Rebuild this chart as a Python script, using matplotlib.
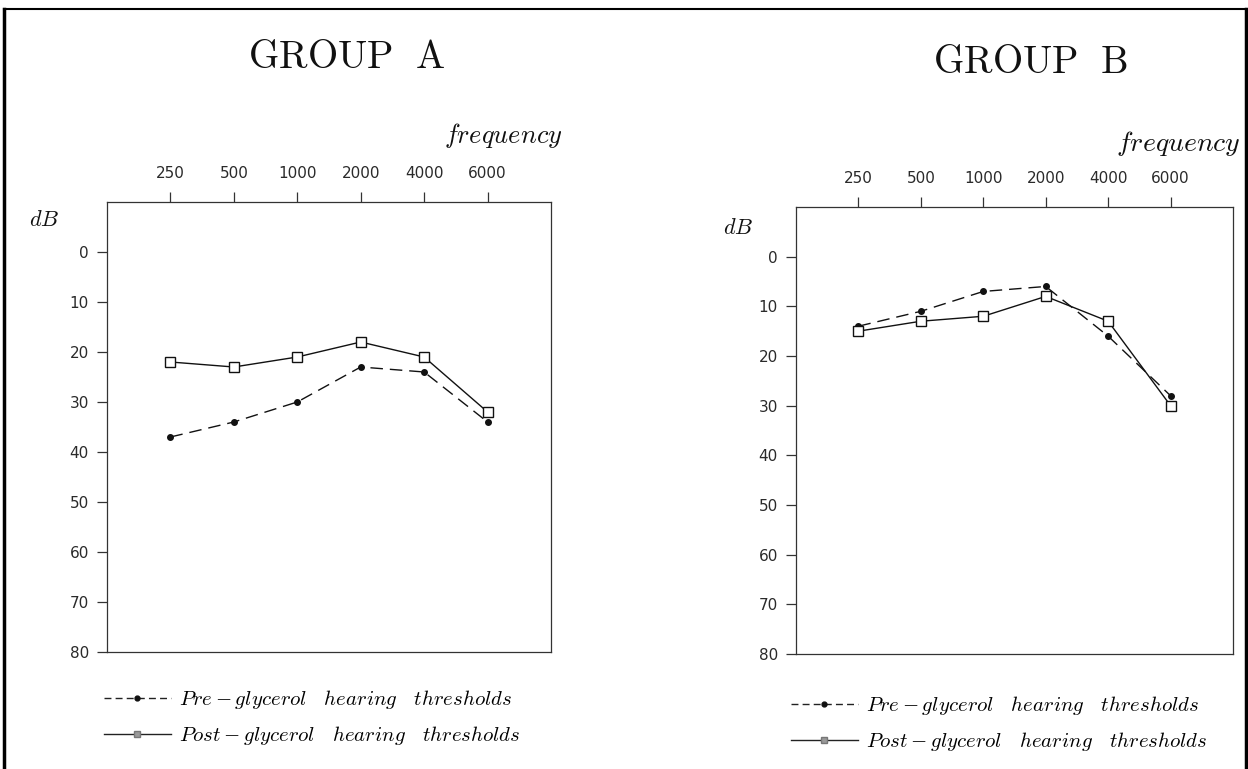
import matplotlib
matplotlib.use("Agg")
import matplotlib.pyplot as plt
from matplotlib.lines import Line2D

plt.rcParams['mathtext.fontset'] = 'cm'
plt.rcParams['font.family'] = ['DejaVu Sans']

freq_labels = ["250", "500", "1000", "2000", "4000", "6000"]
groupA_pre = [37, 34, 30, 23, 24, 34]
groupA_post = [22, 23, 21, 18, 21, 32]
groupB_pre = [14, 11, 7, 6, 16, 28]
groupB_post = [15, 13, 12, 8, 13, 30]
db_ticks = [0, 10, 20, 30, 40, 50, 60, 70, 80]
titles = ["GROUP\\ \\ A", "GROUP\\ \\ B"]
legend_labels = [r"$Pre-glycerol\quad hearing\quad thresholds$",
                 r"$Post-glycerol\quad hearing\quad thresholds$"]

W, H = 1248, 769
fig = plt.figure(figsize=(W / 100, H / 100), dpi=100)

def fx(px):
    return px / W

def fy(py):
    return 1 - py / H

# figure border (left, top, right)
fig.add_artist(Line2D([fx(4), fx(4)], [fy(769), fy(9)], color='black', lw=2.5))
fig.add_artist(Line2D([fx(4), fx(1246)], [fy(9), fy(9)], color='black', lw=1.5))
fig.add_artist(Line2D([fx(1246), fx(1246)], [fy(9), fy(769)], color='black', lw=2.5))

panels = [
    dict(box=(107, 202, 551, 652), pre=groupA_pre, post=groupA_post, title=titles[0],
         title_xy=(347, 57), freq_xy=(503, 135), freq_size=19, db_xy=(44, 220),
         leg_xy=(104, 688)),
    dict(box=(796, 207, 1233, 654), pre=groupB_pre, post=groupB_post, title=titles[1],
         title_xy=(1031, 62), freq_xy=(1178, 143), freq_size=20, db_xy=(738, 228),
         leg_xy=(791, 694)),
]

x = list(range(1, len(freq_labels) + 1))
for p in panels:
    l, t, r, b = p['box']
    ax = fig.add_axes([fx(l), fy(b), fx(r) - fx(l), (b - t) / H])
    ax.set_xlim(0, 7)
    ax.set_ylim(80, -10)
    ax.plot(x, p['pre'], color='#111111', lw=1.0, ls=(0, (9, 5)),
            marker='o', ms=4, mfc='#111111', mec='#111111')
    ax.plot(x, p['post'], color='#111111', lw=1.0, ls='-',
            marker='s', ms=7, mfc='white', mec='#111111', mew=1.0)
    ax.set_xticks(x)
    ax.set_xticklabels(freq_labels)
    ax.xaxis.tick_top()
    ax.set_yticks(db_ticks)
    ax.tick_params(axis='x', direction='out', length=7, width=0.9, pad=8,
                   labelsize=11, labelcolor='#2a2a2a', color='#333333')
    ax.tick_params(axis='y', direction='out', length=7, width=0.9, pad=6,
                   labelsize=11, labelcolor='#2a2a2a', color='#333333')
    for s in ax.spines.values():
        s.set_linewidth(0.9)
        s.set_color('#333333')

    fig.text(fx(p['title_xy'][0]), fy(p['title_xy'][1]), r"$\mathrm{" + p['title'] + "}$",
             ha='center', va='center', fontsize=28, color='#111111')
    fig.text(fx(p['freq_xy'][0]), fy(p['freq_xy'][1]), r"$frequency$",
             ha='center', va='center', fontsize=p['freq_size'], color='#111111')
    fig.text(fx(p['db_xy'][0]), fy(p['db_xy'][1]), r"$dB$",
             ha='center', va='center', fontsize=16, color='#111111')

    handles = [
        Line2D([], [], color='#222222', lw=1.0, ls=(0, (5, 3)), marker='o', ms=3.5,
               mfc='#111111', mec='#111111'),
        Line2D([], [], color='#222222', lw=1.0, ls='-', marker='s', ms=5,
               mfc='#999999', mec='#777777'),
    ]
    lx, ly = p['leg_xy']
    ax.legend(handles, legend_labels, loc='upper left',
              bbox_to_anchor=(fx(lx), fy(ly)), bbox_transform=fig.transFigure,
              frameon=False, fontsize=15, handlelength=3.2, handletextpad=0.4,
              labelspacing=0.62, borderpad=0, borderaxespad=0, numpoints=1)

fig.savefig("out.png", dpi=100)
